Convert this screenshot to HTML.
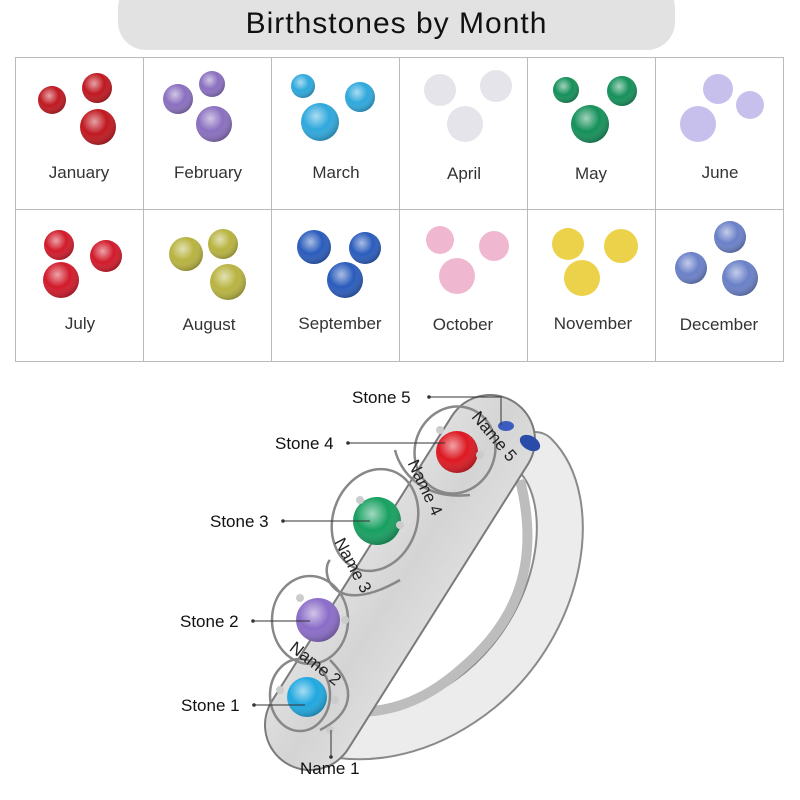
<!DOCTYPE html>
<html><head><style>
html,body{margin:0;padding:0;background:#fff;}
body{width:800px;height:800px;position:relative;overflow:hidden;font-family:"Liberation Sans",sans-serif;}
.pill{position:absolute;left:118px;top:-20px;width:557px;height:70px;background:#e2e2e2;border-radius:28px;text-align:center;}
.pill span{position:absolute;left:0;right:0;top:27px;font-size:30px;letter-spacing:1px;color:#111;}
</style></head><body>
<div class="pill"><span>Birthstones by Month</span></div>
<svg width="800" height="800" style="position:absolute;left:0;top:0" xmlns="http://www.w3.org/2000/svg" font-family="Liberation Sans, sans-serif">
<defs>
<radialGradient id="g" cx="40%" cy="35%" r="70%"><stop offset="0" stop-color="#fff" stop-opacity=".6"/><stop offset=".5" stop-color="#fff" stop-opacity="0"/><stop offset="1" stop-color="#000" stop-opacity=".3"/></radialGradient>
<linearGradient id="metal" x1="0" y1="0" x2="1" y2="1"><stop offset="0" stop-color="#f6f6f6"/><stop offset=".5" stop-color="#d4d4d4"/><stop offset="1" stop-color="#f0f0f0"/></linearGradient>
</defs>
<g stroke="#bbb" stroke-width="1" fill="none">
<rect x="15.5" y="57.5" width="768" height="304"/>
<line x1="143.5" y1="57" x2="143.5" y2="361"/><line x1="271.5" y1="57" x2="271.5" y2="361"/>
<line x1="399.5" y1="57" x2="399.5" y2="361"/><line x1="527.5" y1="57" x2="527.5" y2="361"/>
<line x1="655.5" y1="57" x2="655.5" y2="361"/><line x1="15" y1="209.5" x2="783" y2="209.5"/>
</g>
<g font-size="17" fill="#333" text-anchor="middle">
<text x="79" y="178">January</text><text x="208" y="178">February</text><text x="336" y="178">March</text>
<text x="464" y="179">April</text><text x="591" y="179">May</text><text x="720" y="178">June</text>
<text x="80" y="329">July</text><text x="209" y="330">August</text><text x="340" y="329">September</text>
<text x="463" y="330">October</text><text x="593" y="329">November</text><text x="719" y="330">December</text>
</g>
<g id="gems">
<g fill="#c01820"><circle cx="52" cy="100" r="14"/><circle cx="97" cy="88" r="15"/><circle cx="98" cy="127" r="18"/></g>
<g fill="#8a6fbf"><circle cx="178" cy="99" r="15"/><circle cx="212" cy="84" r="13"/><circle cx="214" cy="124" r="18"/></g>
<g fill="#2ea8dc"><circle cx="303" cy="86" r="12"/><circle cx="360" cy="97" r="15"/><circle cx="320" cy="122" r="19"/></g>
<g fill="#e4e4ea"><circle cx="440" cy="90" r="16"/><circle cx="496" cy="86" r="16"/><circle cx="465" cy="124" r="18"/></g>
<g fill="#15905a"><circle cx="566" cy="90" r="13"/><circle cx="622" cy="91" r="15"/><circle cx="590" cy="124" r="19"/></g>
<g fill="#c8c0ec"><circle cx="718" cy="89" r="15"/><circle cx="750" cy="105" r="14"/><circle cx="698" cy="124" r="18"/></g>
<g fill="#d11a2a"><circle cx="59" cy="245" r="15"/><circle cx="106" cy="256" r="16"/><circle cx="61" cy="280" r="18"/></g>
<g fill="#b8b340"><circle cx="186" cy="254" r="17"/><circle cx="223" cy="244" r="15"/><circle cx="228" cy="282" r="18"/></g>
<g fill="#2a5cbc"><circle cx="314" cy="247" r="17"/><circle cx="365" cy="248" r="16"/><circle cx="345" cy="280" r="18"/></g>
<g fill="#f0b8d0"><circle cx="440" cy="240" r="14"/><circle cx="494" cy="246" r="15"/><circle cx="457" cy="276" r="18"/></g>
<g fill="#ecd24a"><circle cx="568" cy="244" r="16"/><circle cx="621" cy="246" r="17"/><circle cx="582" cy="278" r="18"/></g>
<g fill="#6a80c8"><circle cx="730" cy="237" r="16"/><circle cx="691" cy="268" r="16"/><circle cx="740" cy="278" r="18"/></g>
</g>
<g fill="url(#g)">
<circle cx="52" cy="100" r="14"/><circle cx="97" cy="88" r="15"/><circle cx="98" cy="127" r="18"/>
<circle cx="178" cy="99" r="15"/><circle cx="212" cy="84" r="13"/><circle cx="214" cy="124" r="18"/>
<circle cx="303" cy="86" r="12"/><circle cx="360" cy="97" r="15"/><circle cx="320" cy="122" r="19"/>
<circle cx="566" cy="90" r="13"/><circle cx="622" cy="91" r="15"/><circle cx="590" cy="124" r="19"/>
<circle cx="59" cy="245" r="15"/><circle cx="106" cy="256" r="16"/><circle cx="61" cy="280" r="18"/>
<circle cx="186" cy="254" r="17"/><circle cx="223" cy="244" r="15"/><circle cx="228" cy="282" r="18"/>
<circle cx="314" cy="247" r="17"/><circle cx="365" cy="248" r="16"/><circle cx="345" cy="280" r="18"/>
<circle cx="730" cy="237" r="16"/><circle cx="691" cy="268" r="16"/><circle cx="740" cy="278" r="18"/>
</g>
<!-- ring shank -->
<path d="M535,455 C580,500 565,620 480,690 C430,730 380,740 340,735" stroke="#8a8a8a" stroke-width="48" fill="none" stroke-linecap="round"/>
<path d="M535,455 C580,500 565,620 480,690 C430,730 380,740 340,735" stroke="#ececec" stroke-width="44" fill="none" stroke-linecap="round"/>
<path d="M520,480 C540,560 520,620 460,670 C420,705 385,712 355,712" stroke="#bdbdbd" stroke-width="10" fill="none"/>
<!-- band -->
<path d="M310,725 L490,440" stroke="#7a7a7a" stroke-width="92" stroke-linecap="round" fill="none"/>
<path d="M310,725 L490,440" stroke="url(#metal)" stroke-width="88" stroke-linecap="round" fill="none"/>
<!-- loops outlines -->
<g fill="none" stroke="#888" stroke-width="2.5">
<ellipse cx="310" cy="620" rx="38" ry="44"/>
<ellipse cx="375" cy="520" rx="42" ry="52" transform="rotate(20 375 520)"/>
<ellipse cx="455" cy="450" rx="40" ry="44" transform="rotate(20 455 450)"/>
<ellipse cx="300" cy="695" rx="30" ry="36"/>
<path d="M330,660 C360,690 350,715 320,730"/>
<path d="M400,580 C330,620 320,570 330,560"/>
<path d="M470,495 C420,500 400,470 395,450"/>
</g>
<!-- gems -->
<circle cx="307" cy="697" r="20" fill="#1fa8e0"/><circle cx="307" cy="697" r="20" fill="url(#g)"/>
<circle cx="318" cy="620" r="22" fill="#8a6cc8"/><circle cx="318" cy="620" r="22" fill="url(#g)"/>
<circle cx="377" cy="521" r="24" fill="#17a060"/><circle cx="377" cy="521" r="24" fill="url(#g)"/>
<circle cx="457" cy="452" r="21" fill="#dd1822"/><circle cx="457" cy="452" r="21" fill="url(#g)"/>
<ellipse cx="530" cy="443" rx="11" ry="7" fill="#2a4ba8" transform="rotate(30 530 443)"/><ellipse cx="506" cy="426" rx="8" ry="5" fill="#3a5cc0"/>
<g fill="#ccc"><circle cx="280" cy="690" r="4"/><circle cx="330" cy="730" r="4"/><circle cx="335" cy="700" r="4"/><circle cx="345" cy="620" r="4"/><circle cx="300" cy="598" r="4"/><circle cx="400" cy="525" r="4"/><circle cx="360" cy="500" r="4"/><circle cx="480" cy="455" r="4"/><circle cx="440" cy="430" r="4"/></g>
<g fill="#222" font-size="17" text-anchor="middle">
<text transform="translate(348,568) rotate(62)">Name 3</text>
<text transform="translate(420,490) rotate(65)">Name 4</text>
<text transform="translate(490,440) rotate(50)">Name 5</text>
<text transform="translate(312,668) rotate(38)">Name 2</text>
</g>
<!-- labels -->
<g font-size="17" fill="#111">
<text x="352" y="403">Stone 5</text><text x="275" y="449">Stone 4</text><text x="210" y="527">Stone 3</text>
<text x="180" y="627">Stone 2</text><text x="181" y="711">Stone 1</text><text x="300" y="774">Name 1</text>
</g>
<g stroke="#333" stroke-width="1" fill="none">
<polyline points="429,397 501,397 501,425"/>
<line x1="348" y1="443" x2="445" y2="443"/><line x1="283" y1="521" x2="370" y2="521"/>
<line x1="253" y1="621" x2="310" y2="621"/><line x1="254" y1="705" x2="305" y2="705"/>
<line x1="331" y1="730" x2="331" y2="757"/>
</g>
<g fill="#333"><circle cx="429" cy="397" r="1.8"/><circle cx="348" cy="443" r="1.8"/><circle cx="283" cy="521" r="1.8"/><circle cx="253" cy="621" r="1.8"/><circle cx="254" cy="705" r="1.8"/><circle cx="331" cy="757" r="1.8"/></g>
</svg>
</body></html>
